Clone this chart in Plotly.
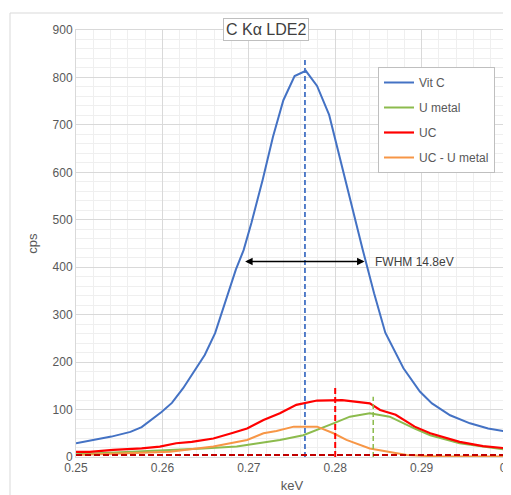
import plotly.graph_objects as go

# Vit C
vitc_x = [0.2500, 0.2520, 0.2541, 0.2563, 0.2576, 0.2599, 0.2611, 0.2624, 0.2638, 0.2649,
          0.2661, 0.2674, 0.2685, 0.2694, 0.2703, 0.2716, 0.2728, 0.2740, 0.2753, 0.2766,
          0.2779, 0.2793, 0.2806, 0.2819, 0.2832, 0.2845, 0.2858, 0.2879, 0.2898, 0.2912,
          0.2933, 0.2956, 0.2977, 0.3000]
vitc_y = [29, 36, 43, 53, 63, 95, 114, 145, 183, 215,
          261, 331, 395, 436, 493, 584, 675, 752, 803, 814,
          782, 721, 625, 530, 436, 345, 262, 187, 138, 113,
          88, 71, 60, 53]

# UC
uc_x = [0.2500, 0.2516, 0.2543, 0.2576, 0.2597, 0.2616, 0.2634, 0.2659, 0.2680, 0.2698,
        0.2717, 0.2736, 0.2755, 0.2779, 0.2808, 0.2840, 0.2852, 0.2870, 0.2892, 0.2910,
        0.2944, 0.2971, 0.3000]
uc_y = [11, 11, 15, 18, 22, 29, 32, 39, 50, 60,
        78, 92, 110, 119, 120, 113, 99, 89, 64, 50,
        32, 23, 18]

# U metal
um_x = [0.2500, 0.2570, 0.2647, 0.2686, 0.2713, 0.2736, 0.2763, 0.2779, 0.2798, 0.2817,
        0.2840, 0.2863, 0.2875, 0.2892, 0.2910, 0.2944, 0.2971, 0.3000]
um_y = [6, 11, 18, 22, 29, 36, 46, 57, 71, 85,
        92, 85, 74, 60, 46, 29, 22, 15]

# UC - U metal
diff_x = [0.2500, 0.2609, 0.2659, 0.2686, 0.2698, 0.2717, 0.2732, 0.2752, 0.2779, 0.2798,
          0.2813, 0.2840, 0.2863, 0.2883, 0.2920, 0.3000]
diff_y = [4, 11, 22, 32, 36, 50, 55, 64, 64, 50,
          36, 18, 11, 4, 1, 1]

# peak markers
peak_vitc = [0.2765, 838]
peak_uc = [0.2800, 152]
peak_um = [0.2844, 127]
baseline_y = 4
fwhm_y = 412
fwhm_x = [0.2694, 0.2834]
fwhm_label = "FWHM 14.8eV"

x_tickvals = [0.25, 0.26, 0.27, 0.28, 0.29, 0.30]
x_ticktext = ["0.25", "0.26", "0.27", "0.28", "0.29", "0.3"]

blue = "#4472C4"
green = "#8CBB4D"
red = "#FF0000"
orange = "#F79646"

fig = go.Figure()
fig.add_trace(go.Scatter(x=vitc_x, y=vitc_y, mode="lines", name="Vit C",
                         line=dict(color=blue, width=2), legendgroup="a"))
fig.add_trace(go.Scatter(x=um_x, y=um_y, mode="lines", name="U metal",
                         line=dict(color=green, width=2), legendgroup="b"))
fig.add_trace(go.Scatter(x=uc_x, y=uc_y, mode="lines", name="UC",
                         line=dict(color=red, width=2.2), legendgroup="c"))
fig.add_trace(go.Scatter(x=diff_x, y=diff_y, mode="lines", name="UC - U metal",
                         line=dict(color=orange, width=2), legendgroup="d"))

# dashed verticals
fig.add_trace(go.Scatter(x=[peak_vitc[0]] * 2, y=[0, peak_vitc[1]], mode="lines",
                         line=dict(color=blue, width=1.8, dash="5px,3px"), showlegend=False))
fig.add_trace(go.Scatter(x=[peak_uc[0]] * 2, y=[0, peak_uc[1]], mode="lines",
                         line=dict(color=red, width=2, dash="6px,3px"), showlegend=False))
fig.add_trace(go.Scatter(x=[peak_um[0]] * 2, y=[0, peak_um[1]], mode="lines",
                         line=dict(color=green, width=1.5, dash="5px,3px"), showlegend=False))
fig.add_trace(go.Scatter(x=[0.25, 0.30], y=[baseline_y] * 2, mode="lines",
                         line=dict(color="#C00000", width=2, dash="6px,3px"), showlegend=False))

# FWHM arrow
fig.add_annotation(x=fwhm_x[1], y=fwhm_y, ax=fwhm_x[0], ay=fwhm_y, xref="x", yref="y",
                   axref="x", ayref="y", text="", showarrow=True, arrowhead=2, arrowsize=1,
                   arrowwidth=1.5, arrowcolor="black", arrowside="end+start")
fig.add_annotation(x=fwhm_x[1], y=fwhm_y, xref="x", yref="y", text=fwhm_label,
                   showarrow=False, xanchor="left", xshift=8,
                   font=dict(size=12, color="#404040"))

# title box
fig.add_annotation(x=(266 - 76) / 432, y=(457 - 29) / 427, xref="paper", yref="paper",
                   text="C Kα LDE2", showarrow=False, font=dict(size=16, color="#404040"),
                   bordercolor="#BFBFBF", borderwidth=1, bgcolor="white", borderpad=2,
                   xanchor="center", yanchor="middle")

# outer chart border
fig.add_shape(type="rect", xref="paper", yref="paper",
              x0=(10 - 76) / 432, x1=1.2, y0=-0.3, y1=(457 - 13) / 427,
              line=dict(color="#D9D9D9", width=1), layer="below")

fig.update_layout(
    width=503, height=487,
    margin=dict(l=68, r=3, t=22, b=38),
    paper_bgcolor="white", plot_bgcolor="white",
    font=dict(family="Liberation Sans, Arial, sans-serif", size=12, color="#595959"),
    showlegend=True,
    legend=dict(x=(378 - 76) / 432, y=(457 - 67) / 427, xanchor="left", yanchor="top",
                bordercolor="#BFBFBF", borderwidth=1, bgcolor="white",
                font=dict(size=12, color="#595959"), tracegroupgap=6,
                itemwidth=30),
    xaxis=dict(range=[0.25, 0.30], tickvals=x_tickvals, ticktext=x_ticktext,
               showgrid=True, gridcolor="#D9D9D9", gridwidth=1,
               minor=dict(dtick=0.002, showgrid=True, gridcolor="#EFEFEF"),
               zeroline=False, showline=True, linecolor="#D9D9D9", mirror=True,
               ticks="", automargin=False, ticklabeloverflow="allow",
               title=dict(text="keV", standoff=6, font=dict(size=13)),
               tickfont=dict(size=12)),
    yaxis=dict(range=[0, 900], dtick=100, showgrid=True, gridcolor="#D9D9D9",
               minor=dict(dtick=20, showgrid=True, gridcolor="#EFEFEF"),
               zeroline=False, showline=True, linecolor="#D9D9D9", mirror=True,
               ticks="", automargin=False,
               title=dict(text="cps", standoff=12, font=dict(size=13)),
               tickfont=dict(size=12)),
)

fig.write_html("out.html")
